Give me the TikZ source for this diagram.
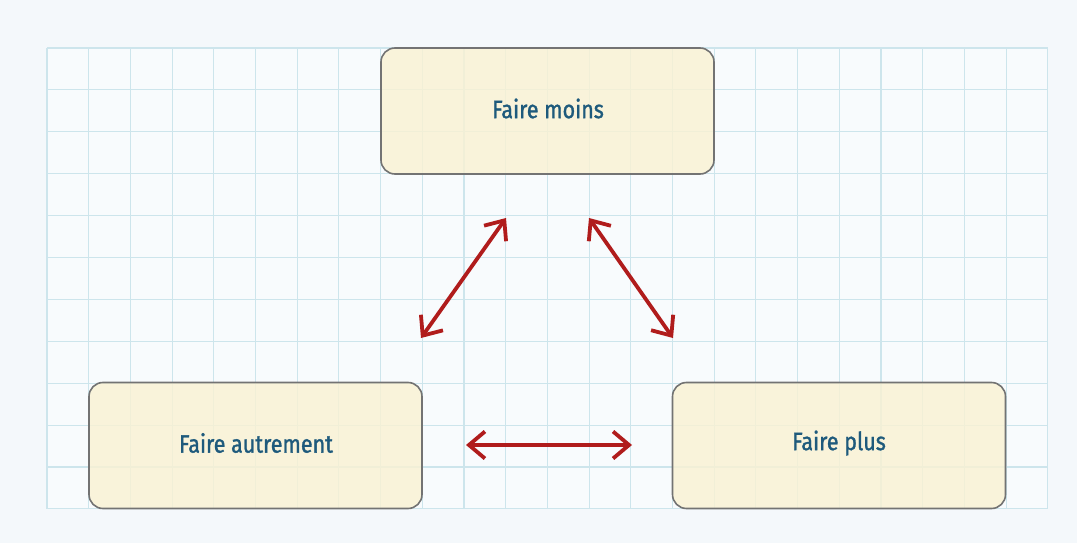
\documentclass[tikz,border=0pt]{standalone}
\usepackage{fontspec}
\setmainfont{Fira Sans}[FakeStretch=0.86,FakeBold=1.3]
\usetikzlibrary{arrows.meta}
\definecolor{bg}{HTML}{F4F8FB}
\definecolor{gridc}{HTML}{CDE5EC}
\definecolor{boxfill}{HTML}{FAF2D2}
\definecolor{boxdraw}{HTML}{737373}
\definecolor{txt}{HTML}{1E5A7C}
\definecolor{arr}{HTML}{B01C1C}
\tikzset{
  box/.style={draw=boxdraw, line width=1.6pt, fill=boxfill, fill opacity=0.8, text opacity=1,
    rounded corners=14pt, minimum width=333pt, minimum height=126pt, inner sep=0pt,
    text=txt, font=\fontsize{25}{28}\selectfont},
  boxtext/.style={text=txt, font=\fontsize{25}{28}\selectfont, inner sep=0pt},
  link/.style={draw=arr, line width=3.8pt, {Straight Barb[length=16pt,width=27pt,line width=3.8pt]}-{Straight Barb[length=16pt,width=27pt,line width=3.8pt]}}
}
\begin{document}
\begin{tikzpicture}[x=1pt,y=-1pt]
\useasboundingbox (0,0) rectangle (1077,543);
\fill[bg] (0,0) rectangle (1077,543);
\fill[white!40!bg] (47,48) rectangle (1047.8,509);
\foreach \i in {0,...,24} \draw[gridc, line width=1.1pt] ({47+41.7*\i},48) -- ({47+41.7*\i},509);
\foreach \j in {0,...,11} \draw[gridc, line width=1.1pt] (47,{48+41.9*\j}) -- (1047.8,{48+41.9*\j});
\node[box] (moins) at (547.5,111) {};
\node[box] (autre) at (255.5,445.5) {};
\node[box] (plus) at (839,445.5) {};
\node[boxtext] (tmoins) at (548,108.5) {Faire moins};
\node[boxtext] (tautre) at (256,443) {Faire autrement};
\node[boxtext] (tplus) at (839,443) {Faire plus};
\coordinate (a1) at (421,338);
\coordinate (a2) at (506,218);
\coordinate (b1) at (589,218);
\coordinate (b2) at (673,338);
\coordinate (c1) at (466,445);
\coordinate (c2) at (632,445);
\draw[link] (a1) -- (a2);
\draw[link] (b1) -- (b2);
\draw[link] (c1) -- (c2);
\end{tikzpicture}
\end{document}
